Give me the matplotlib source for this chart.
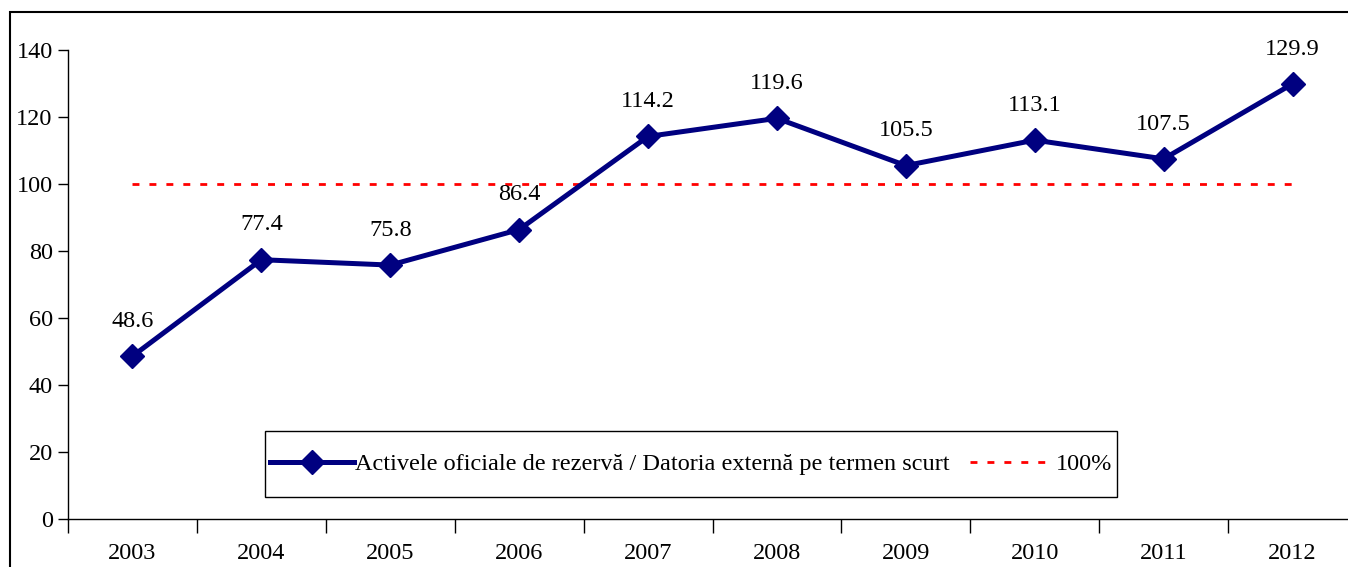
import matplotlib.pyplot as plt
from matplotlib.patches import Rectangle

plt.rcParams['font.family'] = ['Liberation Serif', 'DejaVu Serif']

# data
years = ['2003', '2004', '2005', '2006', '2007', '2008', '2009', '2010', '2011', '2012']
ratio = [48.6, 77.4, 75.8, 86.4, 114.2, 119.6, 105.5, 113.1, 107.5, 129.9]
threshold = [100] * len(years)
series_label = 'Activele oficiale de rezervă / Datoria externă pe termen scurt'
threshold_label = '100%'

W, H = 1348, 567
fs = 17.5

fig = plt.figure(figsize=(W / 100, H / 100), dpi=100)
ax = fig.add_axes([68 / W, 48 / H, 1289 / W, 469 / H])

x = list(range(len(years)))
ax.plot(x, ratio, color='#000080', lw=3.6, marker='D', ms=12,
        label=series_label, zorder=3)
ax.plot(x, threshold, color='#ff0000', lw=2, dashes=(2.5, 3.6),
        label=threshold_label, zorder=2)

for xi, v in zip(x, ratio):
    ax.annotate(f'{v:.1f}', (xi, v), xytext=(0, 25), textcoords='offset points',
                ha='center', va='center', fontsize=fs)

ax.set_xlim(-0.5, len(years) - 0.5)
ax.set_ylim(0, 140)
ax.set_yticks(range(0, 141, 20))
ax.set_xticks(x)
ax.set_xticklabels(years)
ax.set_xticks([i - 0.5 for i in range(len(years) + 1)], minor=True)
ax.tick_params(axis='x', which='major', length=0, pad=17, labelsize=fs)
ax.tick_params(axis='x', which='minor', length=10, width=1)
ax.tick_params(axis='y', length=7, width=1, pad=4, labelsize=fs)

for s in ['top', 'right']:
    ax.spines[s].set_visible(False)
for s in ['left', 'bottom']:
    ax.spines[s].set_linewidth(1)

# legend without its own frame; box drawn separately
ax.legend(loc='center', bbox_to_anchor=(691 / W, (H - 464) / H),
          bbox_transform=fig.transFigure, ncol=2, fontsize=fs,
          frameon=False, handlelength=3.45, columnspacing=0.85,
          handletextpad=0.05, borderpad=0, borderaxespad=0)
fig.patches.append(Rectangle((265 / W, (H - 497) / H), (1117 - 265) / W, 66 / H,
                             transform=fig.transFigure, fill=False,
                             edgecolor='black', lw=1))

# outer frame around the chart
fig.patches.append(Rectangle((10 / W, -0.1), 1.2, (H - 12) / H + 0.1,
                             transform=fig.transFigure, fill=False,
                             edgecolor='black', lw=1.5))

fig.savefig('out.png', dpi=100)
